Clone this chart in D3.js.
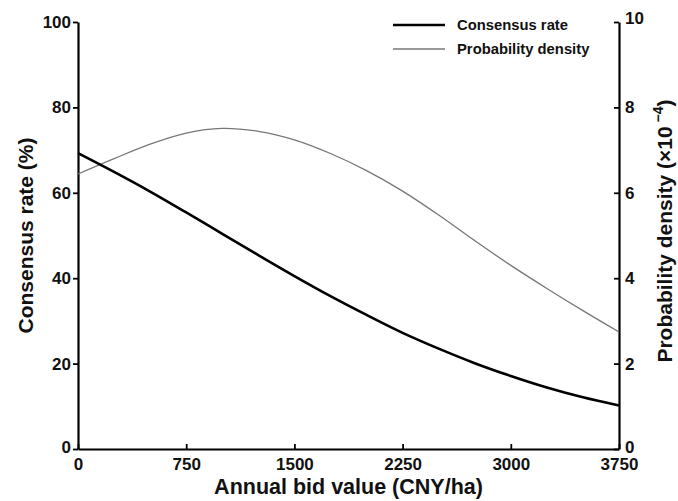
<!DOCTYPE html>
<html>
<head>
<meta charset="utf-8">
<script src="https://cdn.jsdelivr.net/npm/d3@7"></script>
<style>
  body { margin: 0; background: #fff; }
  text { font-family: "Liberation Sans", Arial, sans-serif; font-weight: bold; fill: #111; }
</style>
</head>
<body>
<div id="chart"></div>
<script>
// bid values (CNY/ha)
const bidValues = [0, 250, 500, 750, 1000, 1250, 1500, 1750, 2000, 2250, 2500, 2750, 3000, 3250, 3500, 3750];
// consensus rate (%)
const consensusRate = [69.3, 64.9, 60.3, 55.4, 50.4, 45.4, 40.5, 35.8, 31.4, 27.2, 23.5, 20.1, 17.1, 14.4, 12.1, 10.2];
// probability density (x10^-4)
const probDensity = [6.44, 6.80, 7.14, 7.40, 7.51, 7.44, 7.24, 6.92, 6.52, 6.04, 5.48, 4.88, 4.30, 3.76, 3.24, 2.74];

const xTicks = [0, 750, 1500, 2250, 3000, 3750];
const leftTicks = [0, 20, 40, 60, 80, 100];
const rightTicks = [0, 2, 4, 6, 8, 10];
const legendLabels = ['Consensus rate', 'Probability density'];

const width = 678, height = 501;
const margin = {left: 78, right: 59, top: 22, bottom: 52};

const svg = d3.select('#chart').append('svg')
  .attr('width', width)
  .attr('height', height);

const x = d3.scaleLinear().domain([0, 3750]).range([margin.left, width - margin.right]);
const yL = d3.scaleLinear().domain([0, 100]).range([height - margin.bottom, margin.top]);
const yR = d3.scaleLinear().domain([0, 10]).range([height - margin.bottom, margin.top]);

// axes
const xAxis = svg.append('g')
  .attr('transform', `translate(0,${height - margin.bottom})`)
  .call(d3.axisBottom(x).tickValues(xTicks).tickFormat(d3.format('d'))
    .tickSizeInner(-5).tickSizeOuter(0).tickPadding(4));

const leftAxis = svg.append('g')
  .attr('transform', `translate(${margin.left},0)`)
  .call(d3.axisLeft(yL).tickValues(leftTicks).tickSizeInner(5).tickSizeOuter(0).tickPadding(2));

const rightAxis = svg.append('g')
  .attr('transform', `translate(${width - margin.right},0)`)
  .call(d3.axisRight(yR).tickValues(rightTicks).tickSizeInner(-5).tickSizeOuter(0).tickPadding(10));

[xAxis, leftAxis, rightAxis].forEach(a => {
  a.select('.domain').attr('stroke', '#000').attr('stroke-width', 2.2);
  a.selectAll('.tick line').attr('stroke', '#000').attr('stroke-width', 1.8);
  a.selectAll('.tick text')
    .attr('fill', '#111')
    .attr('font-size', 17)
    .attr('font-family', '"Liberation Sans", Arial, sans-serif')
    .attr('font-weight', 'bold');
});

// x labels below, with the 0 of the y axes sitting on the corner
xAxis.selectAll('.tick text').attr('dy', '1.0em');
leftAxis.selectAll('.tick text').filter(d => d === 0).attr('dy', '0.2em');
rightAxis.selectAll('.tick text').attr('x', 6);
rightAxis.selectAll('.tick text').filter(d => d === 0).attr('dy', '0.2em');
rightAxis.selectAll('.tick text').filter(d => d === 10).attr('dy', '0.1em');

// lines
const lineL = d3.line()
  .x((d, i) => x(bidValues[i]))
  .y(d => yL(d))
  .curve(d3.curveCatmullRom);

const lineR = d3.line()
  .x((d, i) => x(bidValues[i]))
  .y(d => yR(d))
  .curve(d3.curveCatmullRom);

svg.append('path')
  .datum(probDensity)
  .attr('fill', 'none')
  .attr('stroke', '#777')
  .attr('stroke-width', 1.3)
  .attr('d', lineR);

svg.append('path')
  .datum(consensusRate)
  .attr('fill', 'none')
  .attr('stroke', '#000')
  .attr('stroke-width', 2.6)
  .attr('d', lineL);

// axis titles
svg.append('text')
  .attr('x', (margin.left + width - margin.right) / 2)
  .attr('y', 494)
  .attr('text-anchor', 'middle')
  .attr('font-size', 21.5)
  .text('Annual bid value (CNY/ha)');

svg.append('text')
  .attr('transform', `translate(33,${(margin.top + height - margin.bottom) / 2}) rotate(-90)`)
  .attr('text-anchor', 'middle')
  .attr('font-size', 21)
  .text('Consensus rate (%)');

const rt = svg.append('text')
  .attr('transform', `translate(672,231) rotate(-90)`)
  .attr('text-anchor', 'middle')
  .attr('font-size', 21);
rt.append('tspan').text('Probability density (×10');
rt.append('tspan').attr('dy', -9).attr('font-size', 14).text(' −4');
rt.append('tspan').attr('dy', 9).text(')');

// legend
const legend = svg.append('g');
legendLabels.forEach((lab, i) => {
  const ly = 25 + i * 24;
  legend.append('line')
    .attr('x1', 393).attr('x2', 445)
    .attr('y1', ly).attr('y2', ly)
    .attr('stroke', i === 0 ? '#000' : '#777')
    .attr('stroke-width', i === 0 ? 2.6 : 1.3);
  legend.append('text')
    .attr('x', 457).attr('y', ly + 5)
    .attr('font-size', 14.8)
    .text(lab);
});
</script>
</body>
</html>
